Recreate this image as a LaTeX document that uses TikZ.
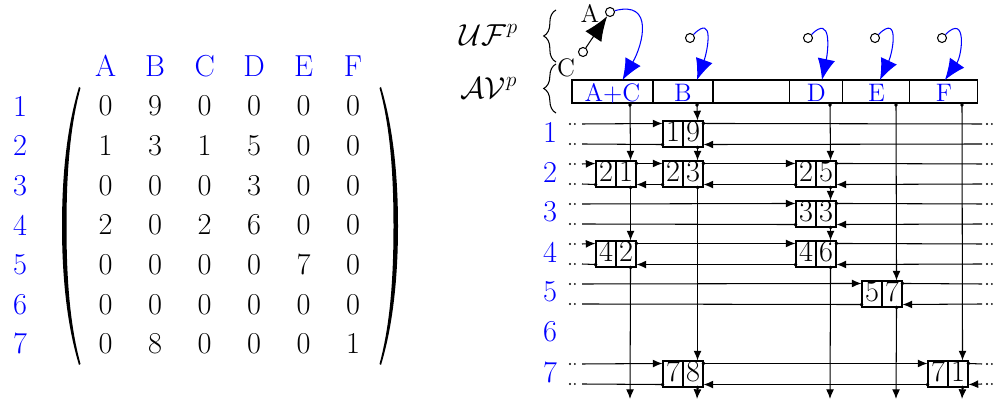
\documentclass[tikz,border=0pt]{standalone}
\usetikzlibrary{matrix,positioning,arrows.meta,decorations.pathreplacing}

\tikzset{
  lab/.style={text=blue, font=\LARGE},
  cell/.style={draw, text=blue, font=\Large, inner sep=0pt, outer sep=0pt,
    text height=.44cm, text depth=.02cm},
  elem/.style={draw, font=\LARGE, inner sep=0pt, minimum width=.8cm,
    text height=.42cm, text depth=.10cm,
    path picture={\draw (path picture bounding box.north) -- (path picture bounding box.south);}},
  ring/.style={circle, draw, minimum size=.18cm, inner sep=0pt},
  link/.style={{Circle[length=2pt,sep=-1pt]}-{Latex[length=5.5pt,width=4.5pt]}},
  inlink/.style={-{Latex[length=5.5pt,width=4.5pt]}},
  outlink/.style={{Circle[length=2pt,sep=-1pt]}-},
  hook/.style={blue, -{Latex[length=12pt,width=10pt]}},
  ends/.style={line width=1.2pt, line cap=round, dash pattern=on 0pt off 2.8pt},
}

\begin{document}
\begin{tikzpicture}[semithick, x=.02cm, y=-.02cm]
  \useasboundingbox (0,0) rectangle (994,404);

  % the matrix
  \matrix (M) [matrix of math nodes, inner sep=0pt,
      nodes={font=\LARGE, minimum width=.99cm, minimum height=.793cm, inner sep=0pt}]
    at (229.4,225) {
    0 & 9 & 0 & 0 & 0 & 0 \\
    1 & 3 & 1 & 5 & 0 & 0 \\
    0 & 0 & 0 & 3 & 0 & 0 \\
    2 & 0 & 2 & 6 & 0 & 0 \\
    0 & 0 & 0 & 0 & 7 & 0 \\
    0 & 0 & 0 & 0 & 0 & 0 \\
    0 & 8 & 0 & 0 & 0 & 1 \\
  };
  % parentheses
  \fill (79,87) .. controls (66,130) and (62,180) .. (62,226)
    .. controls (62,272) and (66,322) .. (79,365)
    -- (80.5,364) .. controls (69,322) and (66.5,272) .. (66.5,226)
    .. controls (66.5,180) and (69,130) .. (80.5,88) -- cycle;
  \fill (381,87) .. controls (394,130) and (398,180) .. (398,226)
    .. controls (398,272) and (394,322) .. (381,365)
    -- (379.5,364) .. controls (391,322) and (393.5,272) .. (393.5,226)
    .. controls (393.5,180) and (391,130) .. (379.5,88) -- cycle;
  \foreach \c [count=\i] in {A,B,C,D,E,F}
    \node[lab] (h\c) at (M-1-\i |- 0,66) {\c};
  \foreach \i in {1,...,7}
    \node[lab] (m\i) at (20,0 |- M-\i-1) {\i};

  % UF and AV
  \node[font=\LARGE] (uf) at (489,35) {$\mathcal{UF}^p$};
  \node[font=\LARGE] (av) at (489,88) {$\mathcal{AV}^p$};
  \draw[decorate, decoration={brace, amplitude=7pt}] (556,62) -- (556,10);
  \draw[decorate, decoration={brace, amplitude=7pt}] (556,113) -- (556,64);

  \node[ring] (oA) at (610,12) {};
  \node[ring] (oC) at (583,52) {};
  \node[ring] (oB) at (690,38) {};
  \node[ring] (oD) at (808,38) {};
  \node[ring] (oE) at (875,38) {};
  \node[ring] (oF) at (942,38) {};
  \node[font=\Large] (lA) at (590,13) {A};
  \node[font=\Large] (lC) at (566,68) {C};
  \draw[-{Latex[length=14pt,width=11pt]}] (oC) -- (oA);

  \node[cell, minimum width=1.62cm, anchor=west] (tAC) at (572,91.5) {A+C};
  \node[cell, minimum width=1.2cm, right=0pt of tAC] (tB) {B};
  \node[cell, minimum width=1.54cm, right=0pt of tB] (tX) {};
  \node[cell, minimum width=1.06cm, right=0pt of tX] (tD) {D};
  \node[cell, minimum width=1.34cm, right=0pt of tD] (tE) {E};
  \node[cell, minimum width=1.36cm, right=0pt of tE] (tF) {F};

  \draw[hook] (oA) to[out=15, in=60, looseness=1.5] ([xshift=.2cm]tAC.north);
  \draw[hook] (oB) to[out=45, in=70, looseness=1.7] ([xshift=.28cm]tB.north);
  \draw[hook] (oD) to[out=45, in=78, looseness=1.6] ([xshift=.11cm]tD.north);
  \draw[hook] (oE) to[out=45, in=65, looseness=1.7] ([xshift=.07cm]tE.north);
  \draw[hook] (oF) to[out=45, in=55, looseness=1.7] ([xshift=.02cm]tF.north);

  % rows
  \foreach \r in {1,...,7}
    \node[lab] (row\r) at (550,{132+40*(\r-1)}) {\r};
  \foreach \r in {1,2,3,4,5,7} {
    \coordinate (L\r-t) at (582,{124+40*(\r-1)});
    \coordinate (L\r-b) at (582,{144+40*(\r-1)});
    \coordinate (R\r-t) at (982,{124+40*(\r-1)});
    \coordinate (R\r-b) at (982,{144+40*(\r-1)});
    \draw[ends] ([xshift=-.24cm]L\r-t) -- ([xshift=-.1cm]L\r-t);
    \draw[ends] ([xshift=-.24cm]L\r-b) -- ([xshift=-.1cm]L\r-b);
    \draw[ends] ([xshift=.1cm]R\r-t) -- ([xshift=.22cm]R\r-t);
    \draw[ends] ([xshift=.1cm]R\r-b) -- ([xshift=.22cm]R\r-b);
  }

  % column heads and ends
  \foreach \c/\x in {AC/630, B/697, D/830, E/896, F/962} {
    \coordinate (c\c) at (\x,105);
    \coordinate (b\c) at (\x,399);
  }

  % elements
  \foreach \nm/\cx/\rw/\ri/\vl in {1B/697/1/1/9, 2A/630/2/2/1, 2B/697/2/2/3,
      2D/830/2/2/5, 3D/830/3/3/3, 4A/630/4/4/2, 4D/830/4/4/6,
      5E/896/5/5/7, 7B/697/7/7/8, 7F/962/7/7/1} {
    \node[elem] (e\nm) at ({\cx-14},{134+40*(\rw-1)})
      {\makebox[.4cm]{\ri}\makebox[.4cm]{\vl}};
    \coordinate (e\nm-tl) at ([yshift=-.06cm]e\nm.north west);
    \coordinate (e\nm-tr) at ([yshift=-.06cm]e\nm.north east);
    \coordinate (e\nm-bl) at ([yshift=.06cm]e\nm.south west);
    \coordinate (e\nm-br) at ([yshift=.06cm]e\nm.south east);
    \coordinate (e\nm-n) at ([xshift=-.12cm]e\nm.north east);
    \coordinate (e\nm-s) at ([xshift=-.12cm]e\nm.south east);
  }

  % row 1
  \draw[inlink] (L1-t) -- (e1B-tl);
  \draw[outlink] (e1B-tr) -- (R1-t);
  \draw[inlink] (R1-b) -- (e1B-br);
  \draw[outlink] (e1B-bl) -- (L1-b);
  % row 2
  \draw[inlink] (L2-t) -- (e2A-tl);
  \draw[link] (e2A-tr) -- (e2B-tl);
  \draw[link] (e2B-tr) -- (e2D-tl);
  \draw[outlink] (e2D-tr) -- (R2-t);
  \draw[inlink] (R2-b) -- (e2D-br);
  \draw[link] (e2D-bl) -- (e2B-br);
  \draw[link] (e2B-bl) -- (e2A-br);
  \draw[outlink] (e2A-bl) -- (L2-b);
  % row 3
  \draw[inlink] (L3-t) -- (e3D-tl);
  \draw[outlink] (e3D-tr) -- (R3-t);
  \draw[inlink] (R3-b) -- (e3D-br);
  \draw[outlink] (e3D-bl) -- (L3-b);
  % row 4
  \draw[inlink] (L4-t) -- (e4A-tl);
  \draw[link] (e4A-tr) -- (e4D-tl);
  \draw[outlink] (e4D-tr) -- (R4-t);
  \draw[inlink] (R4-b) -- (e4D-br);
  \draw[link] (e4D-bl) -- (e4A-br);
  \draw[outlink] (e4A-bl) -- (L4-b);
  % row 5
  \draw[inlink] (L5-t) -- (e5E-tl);
  \draw[outlink] (e5E-tr) -- (R5-t);
  \draw[inlink] (R5-b) -- (e5E-br);
  \draw[outlink] (e5E-bl) -- (L5-b);
  % row 7
  \draw[inlink] (L7-t) -- (e7B-tl);
  \draw[link] (e7B-tr) -- (e7F-tl);
  \draw[outlink] (e7F-tr) -- (R7-t);
  \draw[inlink] (R7-b) -- (e7F-br);
  \draw[link] (e7F-bl) -- (e7B-br);
  \draw[outlink] (e7B-bl) -- (L7-b);

  % columns
  \draw[link] (cAC) -- (e2A-n);
  \draw[link] (e2A-s) -- (e4A-n);
  \draw[link] (e4A-s) -- (bAC);
  \draw[link] (cB) -- (e1B-n);
  \draw[link] (e1B-s) -- (e2B-n);
  \draw[link] (e2B-s) -- (e7B-n);
  \draw[link] (e7B-s) -- (bB);
  \draw[link] (cD) -- (e2D-n);
  \draw[link] (e2D-s) -- (e3D-n);
  \draw[link] (e3D-s) -- (e4D-n);
  \draw[link] (e4D-s) -- (bD);
  \draw[link] (cE) -- (e5E-n);
  \draw[link] (e5E-s) -- (bE);
  \draw[link] (cF) -- (e7F-n);
  \draw[link] (e7F-s) -- (bF);

\end{tikzpicture}
\end{document}
